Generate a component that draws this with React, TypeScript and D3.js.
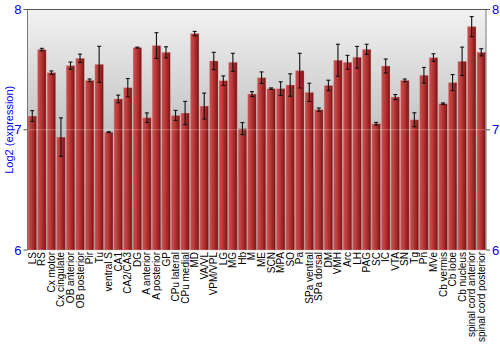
import React from "react";
import * as d3 from "d3";

const categories = ["LS","RS","Cx motor","Cx cingulate","OB anterior","OB posterior","Pir","Tu","ventral S","CA1","CA2/CA3","DG","A anterior","A posterior","GP","CPu lateral","CPu medial","MD","VA/VL","VPM/VPL","LG","MG","Hb","M","ME","SCN","MPA","SO","Pa","SPa ventral","SPa dorsal","DM","VMH","Arc","LH","PAG","SC","IC","VTA","SN","Tg","Pn","MVe","Cb vermis","Cb lobe","Cb nucleus","spinal cord anterior","spinal cord posterior"];
const values = [7.114,7.667,7.475,6.939,7.533,7.594,7.411,7.544,6.98,7.256,7.35,7.683,7.1,7.7,7.644,7.119,7.139,7.8,7.197,7.572,7.408,7.561,7.01,7.297,7.433,7.342,7.342,7.372,7.492,7.311,7.167,7.369,7.578,7.561,7.603,7.669,7.05,7.53,7.272,7.411,7.083,7.453,7.6,7.217,7.392,7.569,7.858,7.644];
const errors = [0.045,0.01,0.014,0.16,0.03,0.035,0.011,0.15,0.004,0.032,0.076,0.004,0.04,0.107,0.046,0.042,0.097,0.018,0.108,0.072,0.04,0.075,0.05,0.02,0.048,0.006,0.057,0.093,0.144,0.076,0.014,0.043,0.133,0.058,0.09,0.042,0.011,0.058,0.021,0.011,0.058,0.065,0.032,0.006,0.067,0.118,0.083,0.03];
const yTicks = [6, 7, 8];
const yTitle = "Log2 (expression)";

export default function App() {
  const W = 500, H = 350;
  const left = 27.5, right = 486, top = 9.5, bottom = 250;
  const x = d3.scaleBand<string>().domain(categories).range([left, right]).paddingInner(0.1).paddingOuter(0.05);
  const y = d3.scaleLinear().domain([6, 8]).range([bottom, top]);
  const bw = x.bandwidth();
  const font = "Liberation Sans, Arial, sans-serif";
  return (
    <svg width={W} height={H} style={{ display: "block", position: "absolute", left: 0, top: 0 }} fontFamily={font}>
      <defs>
        <linearGradient id="bg" x1="0" y1="0" x2="0" y2="1">
          <stop offset="0" stopColor="#f2f2f2" />
          <stop offset="1" stopColor="#959595" />
        </linearGradient>
        <linearGradient id="bar" x1="0" y1="0" x2="1" y2="0">
          <stop offset="0" stopColor="#c85252" />
          <stop offset="0.35" stopColor="#bd3d3d" />
          <stop offset="0.75" stopColor="#9a2222" />
          <stop offset="1" stopColor="#6e1010" />
        </linearGradient>
      </defs>
      <rect x={left} y={top} width={right - left} height={bottom - top} fill="url(#bg)" />
      {categories.map((c, i) => {
        const y0 = y(values[i]);
        return (
          <rect key={c} x={x(c)} y={y0} width={bw} height={bottom - y0} fill="url(#bar)" stroke="rgba(230,170,170,0.45)" strokeWidth={0.8} />
        );
      })}
      {yTicks.filter(t => t > 6 && t < 8).map(t => (
        <line key={"g" + t} x1={left} x2={right} y1={y(t)} y2={y(t)} stroke="rgba(255,255,255,0.3)" strokeWidth={1} />
      ))}
      {categories.map((c, i) => {
        const cx = (x(c) as number) + bw / 2;
        const y1 = y(values[i] + errors[i]);
        const y2 = y(values[i] - errors[i]);
        return (
          <g key={"e" + c} stroke="#111" strokeWidth={1.1}>
            <line x1={cx} x2={cx} y1={y1} y2={y2} />
            <line x1={cx - 2} x2={cx + 2} y1={y1} y2={y1} />
            <line x1={cx - 2} x2={cx + 2} y1={y2} y2={y2} />
          </g>
        );
      })}
      <line x1={left} x2={right} y1={top} y2={top} stroke="#555" strokeWidth={1} />
      <line x1={left} x2={left} y1={top} y2={bottom} stroke="#777" strokeWidth={1} />
      <line x1={right} x2={right} y1={top} y2={bottom} stroke="#777" strokeWidth={1} />
      {yTicks.map(t => (
        <g key={"t" + t}>
          <line x1={left - 4} x2={left} y1={y(t)} y2={y(t)} stroke="#555" />
          <text x={left - 6} y={y(t)} dy="0.36em" textAnchor="end" fontSize={13} fill="#0000ff">{t}</text>
          <line x1={right} x2={right + 4} y1={y(t)} y2={y(t)} stroke="#555" />
          <text x={right + 6} y={y(t)} dy="0.36em" textAnchor="start" fontSize={13} fill="#0000ff">{t}</text>
        </g>
      ))}
      <text transform={`translate(13,${(top + bottom) / 2}) rotate(-90)`} textAnchor="middle" fontSize={11} fill="#0000ff">{yTitle}</text>
      {categories.map(c => (
        <text key={"l" + c} transform={`translate(${(x(c) as number) + bw / 2 + 3.5},${bottom + 2}) rotate(-90)`} textAnchor="end" fontSize={10} fill="#000">{c}</text>
      ))}
    </svg>
  );
}
